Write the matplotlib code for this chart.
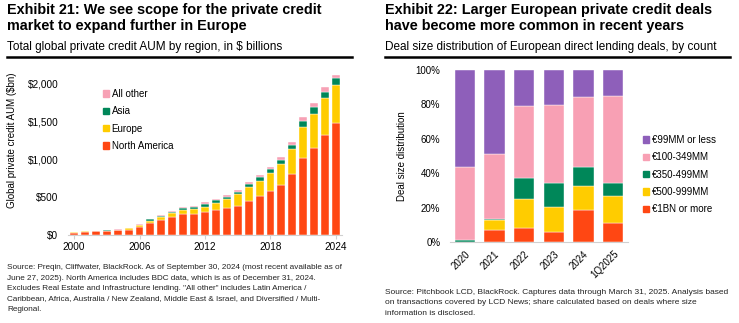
import numpy as np
import matplotlib
matplotlib.use('Agg')
import matplotlib.pyplot as plt
from matplotlib.lines import Line2D
from matplotlib.patches import Patch

plt.rcParams['font.family'] = ['Liberation Sans', 'DejaVu Sans']

# Exhibit 21 data ($bn)
years = list(range(2000, 2025))
north_america = [30, 44, 50, 55, 62, 72, 110, 163, 198, 242, 277, 277, 308, 330, 360,
                 387, 453, 514, 580, 659, 804, 1020, 1152, 1319, 1481]
europe = [3, 3, 4, 4, 7, 14, 18, 22, 44, 44, 57, 66, 66, 96, 110,
          154, 180, 198, 242, 273, 326, 409, 448, 492, 493]
asia = [2, 1, 2, 2, 3, 6, 7, 22, 13, 22, 26, 27, 35, 31, 35,
        30, 39, 48, 48, 57, 57, 74, 84, 79, 88]
all_other = [1, 1, 1, 1, 3, 5, 5, 8, 5, 12, 10, 12, 21, 23, 18,
             22, 27, 31, 31, 35, 39, 49, 52, 57, 48]

# Exhibit 22 data (% of deals)
periods = ['2020', '2021', '2022', '2023', '2024', '1Q2025']
bn1_plus = [0, 7.2, 7.9, 6.0, 18.6, 11.2]
mm500_999 = [0, 5.8, 17.1, 14.3, 14.1, 15.7]
mm350_499 = [1.4, 0.2, 12.3, 14.1, 11.0, 7.5]
mm100_349 = [42.1, 37.7, 42.0, 45.3, 40.8, 50.5]
mm99_less = [56.5, 49.1, 20.7, 20.3, 15.5, 15.1]

c_na = '#FF4713'
c_eu = '#FFCC00'
c_as = '#008759'
c_ot = '#F7A1B5'
c_pu = '#8E5FBA'
c_pk = '#F8A0B4'
grey = '#D0D0D0'

fig = plt.figure(figsize=(7.39, 3.23), dpi=100)
W, H = 739, 323


def fx(px):
    return px / W


def fy(py):
    return 1 - py / H


# titles
fig.text(fx(7), fy(3), 'Exhibit 21: We see scope for the private credit\nmarket to expand further in Europe',
         fontsize=10.4, fontweight='bold', va='top', ha='left', linespacing=1.2)
fig.text(fx(7), fy(47), 'Total global private credit AUM by region, in $ billions',
         fontsize=8.5, va='center', ha='left')
fig.text(fx(385), fy(3), 'Exhibit 22: Larger European private credit deals\nhave become more common in recent years',
         fontsize=10.4, fontweight='bold', va='top', ha='left', linespacing=1.2)
fig.text(fx(385), fy(47), 'Deal size distribution of European direct lending deals, by count',
         fontsize=8.5, va='center', ha='left')
fig.add_artist(Line2D([fx(7), fx(352)], [fy(57), fy(57)], color='black', lw=1.8))
fig.add_artist(Line2D([fx(385), fx(730)], [fy(57), fy(57)], color='black', lw=1.8))

# left chart
ax1 = fig.add_axes([fx(68), fy(235), fx(342) - fx(68), (235 - 68) / H])
x = np.arange(len(years))
na = np.array(north_america)
eu = np.array(europe)
asi = np.array(asia)
ot = np.array(all_other)
kw = dict(width=0.72, edgecolor='white', linewidth=0.3)
ax1.bar(x, na, color=c_na, **kw)
ax1.bar(x, eu, bottom=na, color=c_eu, **kw)
ax1.bar(x, asi, bottom=na + eu, color=c_as, **kw)
ax1.bar(x, ot, bottom=na + eu + asi, color=c_ot, **kw)
ax1.set_xlim(-0.55, len(years) - 0.45)
ax1.set_ylim(0, 2200)
ax1.set_yticks([0, 500, 1000, 1500, 2000])
ax1.set_yticklabels(['$0', '$500', '$1,000', '$1,500', '$2,000'])
tick_idx = [0, 6, 12, 18, 24]
ax1.set_xticks(tick_idx)
ax1.set_xticklabels([str(years[i]) for i in tick_idx])
for s in ['top', 'right', 'left']:
    ax1.spines[s].set_visible(False)
ax1.spines['bottom'].set_color(grey)
ax1.tick_params(axis='y', length=0, labelsize=7.2, pad=7)
ax1.tick_params(axis='x', length=3, color=grey, labelsize=7.2, pad=2)
ax1.set_ylabel('Global private credit AUM ($bn)', fontsize=7)
ax1.yaxis.set_label_coords(-0.185, 0.57)
h1 = [Patch(color=c_ot), Patch(color=c_as), Patch(color=c_eu), Patch(color=c_na)]
ax1.legend(h1, ['All other', 'Asia', 'Europe', 'North America'], loc='upper left',
           bbox_to_anchor=(fx(103), fy(89)), bbox_transform=fig.transFigure,
           frameon=False, fontsize=7, handlelength=0.65, handleheight=0.65,
           handletextpad=0.25, labelspacing=0.75, borderaxespad=0, borderpad=0)

# right chart
ax2 = fig.add_axes([fx(450), fy(242), fx(628) - fx(450), (242 - 70) / H])
x2 = np.arange(len(periods))
b0 = np.array(bn1_plus)
b1 = np.array(mm500_999)
b2 = np.array(mm350_499)
b3 = np.array(mm100_349)
b4 = np.array(mm99_less)
kw2 = dict(width=0.68, edgecolor='white', linewidth=0.3)
ax2.bar(x2, b0, color=c_na, **kw2)
ax2.bar(x2, b1, bottom=b0, color=c_eu, **kw2)
ax2.bar(x2, b2, bottom=b0 + b1, color=c_as, **kw2)
ax2.bar(x2, b3, bottom=b0 + b1 + b2, color=c_pk, **kw2)
ax2.bar(x2, b4, bottom=b0 + b1 + b2 + b3, color=c_pu, **kw2)
ax2.set_xlim(-0.5, len(periods) - 0.5)
ax2.set_ylim(0, 100)
ax2.set_yticks([0, 20, 40, 60, 80, 100])
ax2.set_yticklabels(['0%', '20%', '40%', '60%', '80%', '100%'])
ax2.set_xticks(x2)
ax2.set_xticklabels(periods, rotation=45, ha='right', rotation_mode='anchor')
for s in ['top', 'right', 'left']:
    ax2.spines[s].set_visible(False)
ax2.spines['bottom'].set_color(grey)
ax2.tick_params(axis='y', length=0, labelsize=7, pad=7)
ax2.tick_params(axis='x', length=0, labelsize=7, pad=5)
ax2.set_ylabel('Deal size distribution', fontsize=7, labelpad=6)
h2 = [Patch(color=c_pu), Patch(color=c_pk), Patch(color=c_as), Patch(color=c_eu), Patch(color=c_na)]
ax2.legend(h2, ['€99MM or less', '€100-349MM', '€350-499MM', '€500-999MM', '€1BN or more'],
           loc='upper left', bbox_to_anchor=(fx(643), fy(135)), bbox_transform=fig.transFigure,
           frameon=False, fontsize=7, handlelength=0.65, handleheight=0.65,
           handletextpad=0.25, labelspacing=0.75, borderaxespad=0, borderpad=0)

# footnotes
note1 = ('Source: Preqin, Cliffwater, BlackRock. As of September 30, 2024 (most recent available as of\n'
         'June 27, 2025). North America includes BDC data, which is as of December 31, 2024.\n'
         'Excludes Real Estate and Infrastructure lending. "All other" includes Latin America /\n'
         'Caribbean, Africa, Australia / New Zealand, Middle East & Israel, and Diversified / Multi-\n'
         'Regional.')
note2 = ('Source: Pitchbook LCD, BlackRock. Captures data through March 31, 2025. Analysis based\n'
         'on transactions covered by LCD News; share calculated based on deals where size\n'
         'information is disclosed.')
fig.text(fx(7), fy(264), note1, fontsize=5.9, va='top', ha='left', linespacing=1.7, color='#222222')
fig.text(fx(385), fy(289), note2, fontsize=6.0, va='top', ha='left', linespacing=1.7, color='#222222')

fig.savefig('out.png', dpi=100)
